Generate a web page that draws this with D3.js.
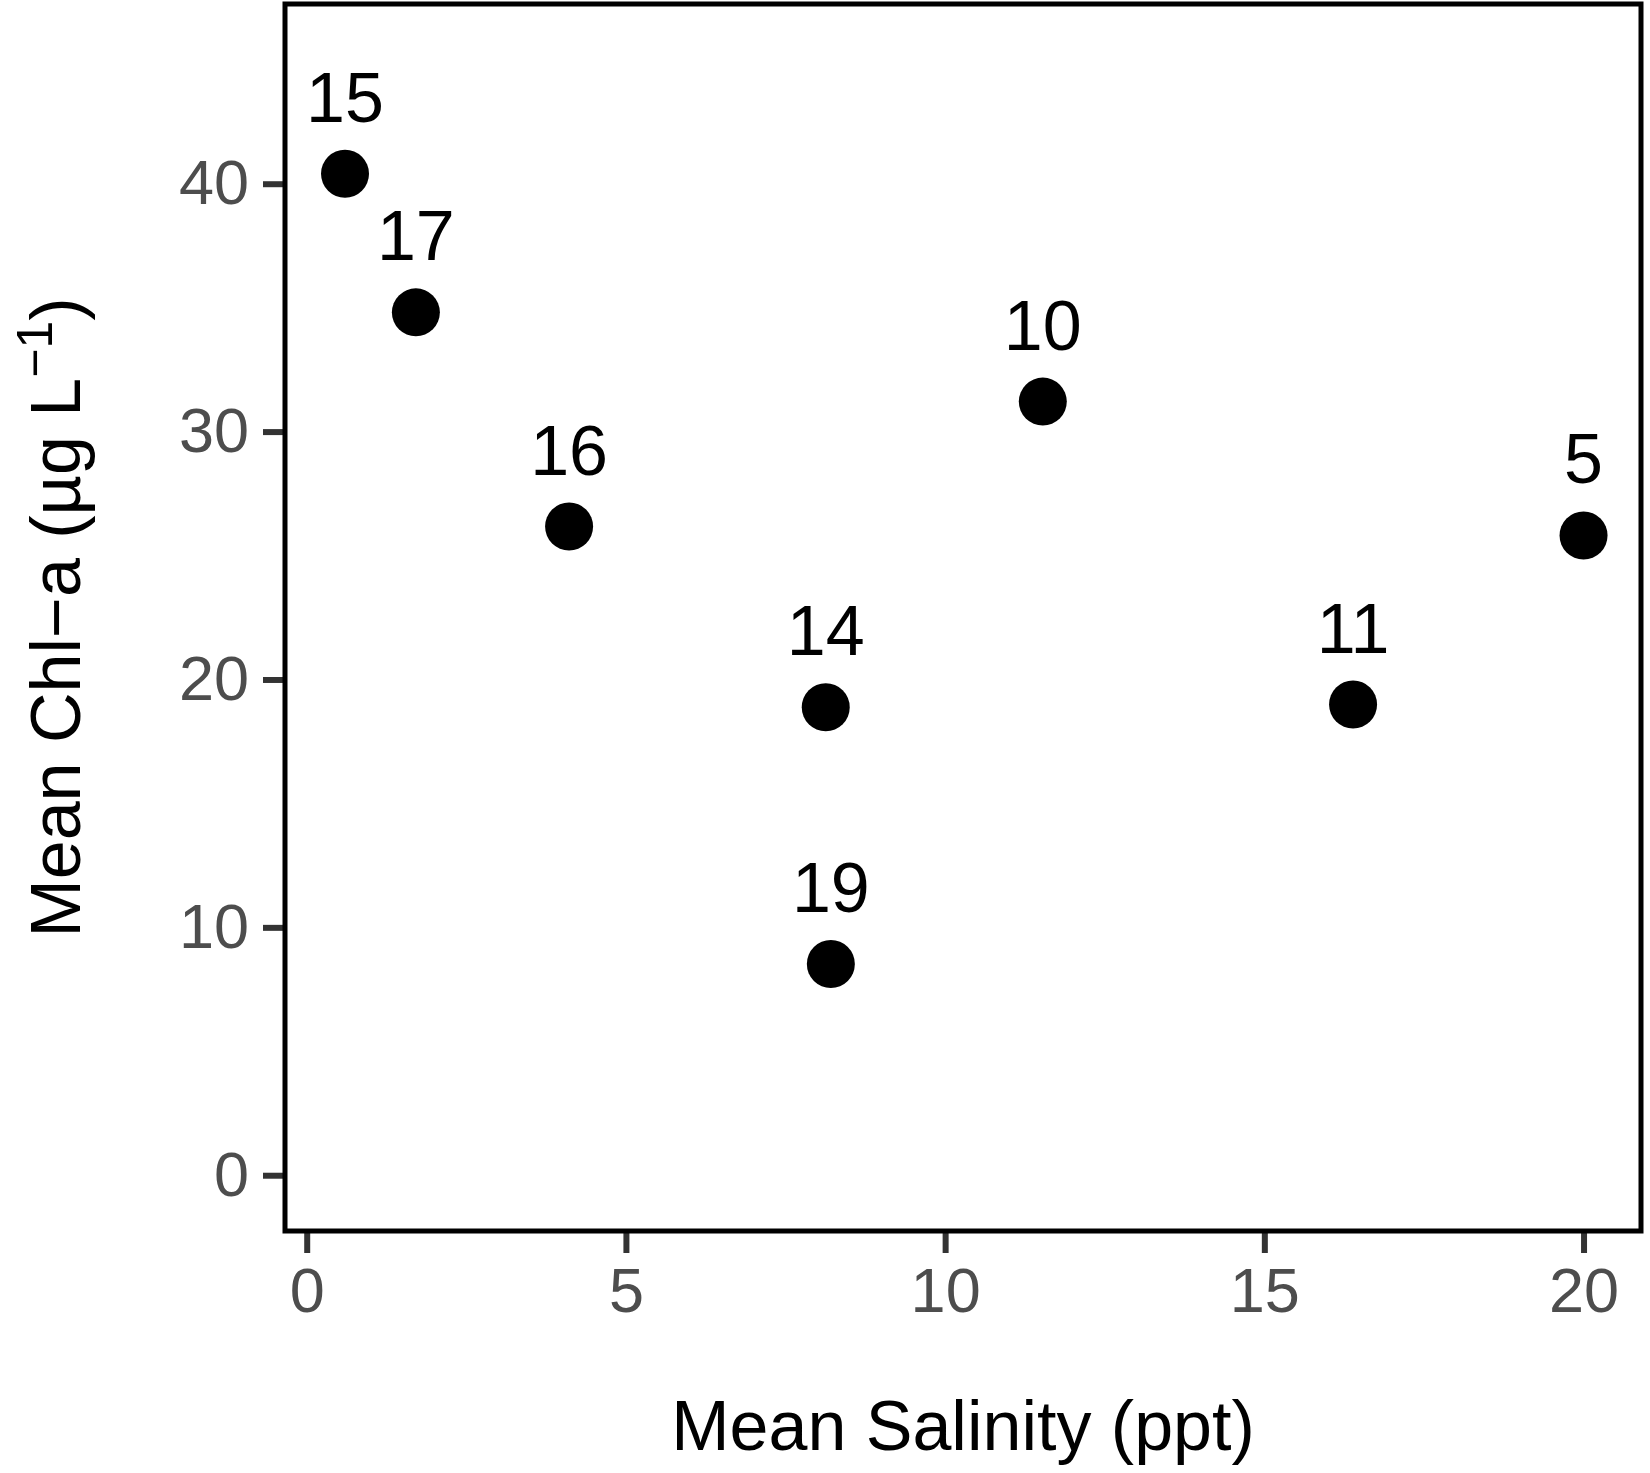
<!DOCTYPE html>
<html><head><meta charset="utf-8">
<script src="https://cdn.jsdelivr.net/npm/d3@7"></script>
<style>body{margin:0;background:#fff}</style>
</head><body>
<svg id="c" width="1650" height="1473"></svg>
<script>
const sites    = ["15","17","16","14","19","10","11","5"];
const salinity = [0.60, 1.71, 4.11, 8.13, 8.21, 11.53, 16.39, 20.0];
const chla     = [40.40, 34.81, 26.17, 18.88, 8.52, 31.21, 18.99, 25.81];
const xTicks = [0, 5, 10, 15, 20];
const yTicks = [0, 10, 20, 30, 40];

const svg = d3.select("#c");
const L = 285, R = 1641, T = 4, B = 1231;
const x = d3.scaleLinear().domain([-0.34, 20.9]).range([L, R]);
const y = d3.scaleLinear().domain([-2.25, 47.25]).range([B, T]);
const font = "'Liberation Sans', Arial, Helvetica, sans-serif";

const xAxis = svg.append("g").attr("transform", `translate(0,${B})`)
  .call(d3.axisBottom(x).tickValues(xTicks).tickSize(22).tickPadding(14));
const yAxis = svg.append("g").attr("transform", `translate(${L},0)`)
  .call(d3.axisLeft(y).tickValues(yTicks).tickSize(22).tickPadding(14));
[xAxis, yAxis].forEach(g => {
  g.select(".domain").remove();
  g.selectAll(".tick line").attr("stroke", "#333").attr("stroke-width", 6);
  g.selectAll(".tick text").attr("fill", "#4d4d4d")
    .style("font-family", font).style("font-size", "63px");
});

svg.append("rect").attr("x", L).attr("y", T).attr("width", R - L).attr("height", B - T)
  .attr("fill", "none").attr("stroke", "#000").attr("stroke-width", 5);

const data = sites.map((s, i) => ({s, x: salinity[i], y: chla[i]}));
svg.append("g").selectAll("circle").data(data).join("circle")
  .attr("cx", d => x(d.x)).attr("cy", d => y(d.y)).attr("r", 24).attr("fill", "#000");
svg.append("g").selectAll("text").data(data).join("text")
  .attr("x", d => x(d.x)).attr("y", d => y(d.y) - 52)
  .attr("text-anchor", "middle").attr("fill", "#000")
  .style("font-family", font).style("font-size", "70px").text(d => d.s);

svg.append("text").attr("x", (L + R) / 2).attr("y", 1450).attr("text-anchor", "middle")
  .style("font-family", font).style("font-size", "70px").attr("fill", "#000")
  .text("Mean Salinity (ppt)");

const yt = svg.append("text").attr("transform", `translate(80,${(T + B) / 2}) rotate(-90)`)
  .attr("text-anchor", "middle").style("font-family", font).style("font-size", "70px").attr("fill", "#000");
yt.append("tspan").text("Mean Chl\u2212a (\u00b5g L");
yt.append("tspan").attr("dy", -28).style("font-size", "50px").text("\u22121");
yt.append("tspan").attr("dy", 28).text(")");
</script>
</body></html>
